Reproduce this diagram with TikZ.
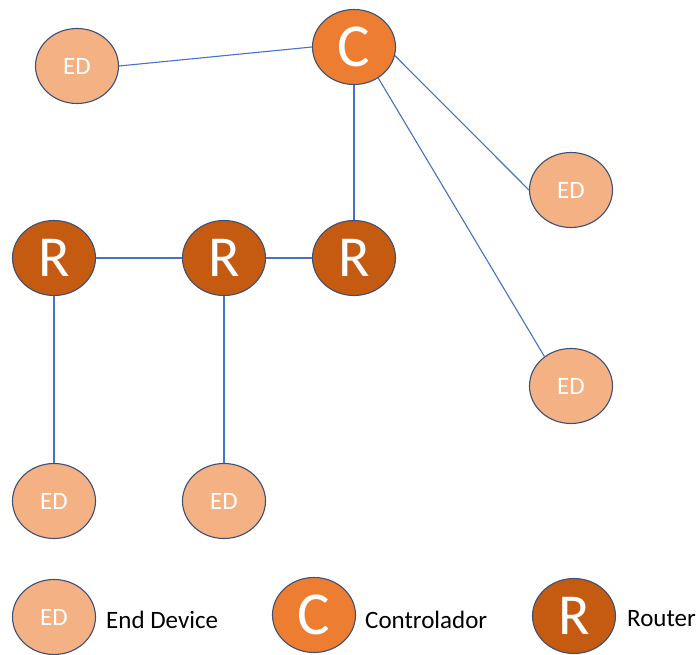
\documentclass[tikz,border=0pt]{standalone}
\usepackage{fontspec}
\setmainfont{Carlito}
\usetikzlibrary{shapes.geometric}
\definecolor{edfill}{HTML}{F4B183}
\definecolor{cfill}{HTML}{ED7D31}
\definecolor{rfill}{HTML}{C55A11}
\definecolor{edgeblue}{HTML}{4472C4}
\definecolor{rim}{HTML}{3E4F75}
\tikzset{
  dev/.style={ellipse, draw=rim, line width=1.1pt, minimum width=83pt, minimum height=75pt, inner sep=0pt, text=white},
  edn/.style={dev, fill=edfill, font=\fontsize{25}{25}\selectfont},
  cn/.style={dev, fill=cfill, font=\fontsize{61}{61}\selectfont},
  rn/.style={dev, fill=rfill, font=\fontsize{58}{58}\selectfont},
  link/.style={draw=edgeblue, line width=1.1pt},
  legtxt/.style={anchor=base west, inner sep=0pt, font=\fontsize{25}{25}\selectfont, text=black}
}
\begin{document}
\begin{tikzpicture}[x=1pt,y=-1pt]
\useasboundingbox (0,0) rectangle (699,655);
% nodes
\node[edn] (ed1) at (77,66) {ED};
\node[cn]  (c)   at (354,47) {C};
\node[edn] (ed2) at (571,190) {ED};
\node[edn] (ed3) at (571,386) {ED};
\node[rn]  (r1)  at (54,258) {R};
\node[rn]  (r2)  at (224,258) {R};
\node[rn]  (r3)  at (354,258) {R};
\node[edn] (ed4) at (54,501) {ED};
\node[edn] (ed5) at (224,501) {ED};
% links
\draw[link] (ed1.east) -- (c.west);
\draw[link] (c.south) -- (r3.north);
\draw[link] (c.-12) -- (ed2.west);
\draw[link] (c.-52) -- (ed3.132);
\draw[link] (r1.east) -- (r2.west);
\draw[link] (r2.east) -- (r3.west);
\draw[link] (r1.south) -- (ed4.north);
\draw[link] (r2.south) -- (ed5.north);
% legend
\node[edn] (led) at (54,617) {ED};
\node[cn]  (lc)  at (314,615) {C};
\node[rn]  (lr)  at (574,616) {R};
\node[legtxt] (ted) at (106,628) {End Device};
\node[legtxt] (tc)  at (365,628) {Controlador};
\node[legtxt] (tr)  at (627,626) {Router};
\end{tikzpicture}
\end{document}
